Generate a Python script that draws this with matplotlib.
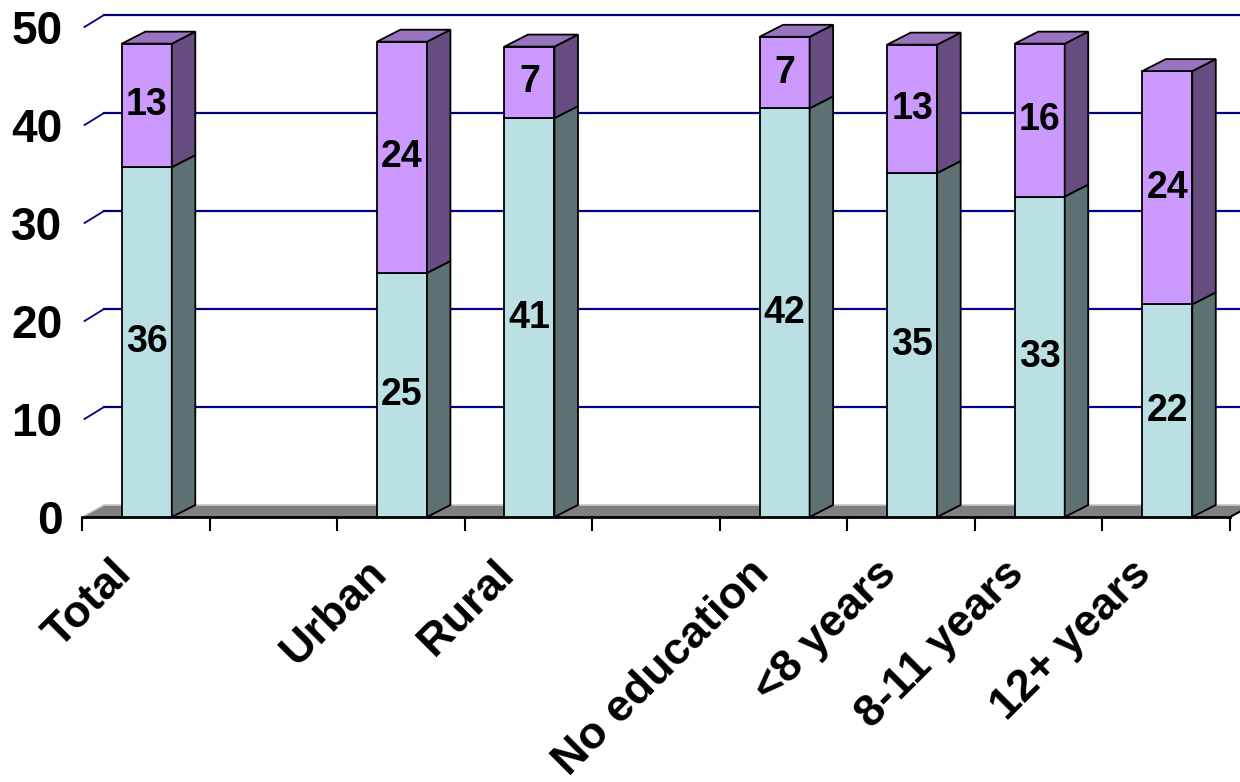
import numpy as np
import matplotlib
matplotlib.use("Agg")
import matplotlib.pyplot as plt
from matplotlib.patches import Polygon, Rectangle
from matplotlib.transforms import ScaledTranslation

plt.rcParams['font.family'] = ['Liberation Sans', 'DejaVu Sans']

# data (blank categories are the gaps between groups)
categories = ["Total", "", "Urban", "Rural", "", "No education", "<8 years", "8-11 years", "12+ years"]
lower = [35.7, np.nan, 24.9, 40.7, np.nan, 41.7, 35.1, 32.7, 21.7]
upper = [12.6, np.nan, 23.6, 7.3, np.nan, 7.3, 13.1, 15.6, 23.8]
y_ticks = [0, 10, 20, 30, 40, 50]

# pixel geometry of the original image
W, H = 1240, 782
slot_px = 127.56
unit_px = 9.8
y0_px = 517
xmin, xmax = -0.5, 8.8
ymin, ymax = 0, 51.8

fig = plt.figure(figsize=(W / 100, H / 100), dpi=100)
ax = fig.add_axes([82 / W, (H - y0_px) / H,
                   (xmax - xmin) * slot_px / W, (ymax - ymin) * unit_px / H])
ax.set_xlim(xmin, xmax)
ax.set_ylim(ymin, ymax)

wall_dx, wall_dy = 22 / slot_px, 12 / unit_px
bar_dx, bar_dy = 23.5 / slot_px, 12 / unit_px
bar_w = 50 / slot_px

n = len(categories)
xs = np.arange(n)
x_lo, x_hi = -0.5, n - 0.5

# floor
ax.add_patch(Polygon([(x_lo, 0), (x_lo + wall_dx, wall_dy), (x_hi + wall_dx, wall_dy), (x_hi, 0)],
                     closed=True, facecolor="#808080", edgecolor="none", zorder=1))
ax.plot([x_lo + wall_dx, x_hi + wall_dx], [wall_dy, wall_dy], color="#C8C8C8", lw=1.2, zorder=1.5)
ax.plot([x_lo, x_lo + wall_dx], [0, wall_dy], color="#C8C8C8", lw=1, zorder=1.5)
ax.plot([x_hi, x_hi + wall_dx], [0, wall_dy], color="black", lw=1.5, zorder=1.5)

# gridlines on the back wall
for v in y_ticks[1:]:
    ax.plot([x_lo + wall_dx, xmax], [v + wall_dy] * 2, color="#000080", lw=1.6, zorder=1)
    ax.plot([x_lo + 0.02, x_lo + wall_dx], [v, v + wall_dy], color="#000080", lw=1.3, zorder=1)


def box(x0, y0, h, front, side, top=None):
    ax.add_patch(Rectangle((x0, y0), bar_w, h, facecolor=front, edgecolor="black", lw=1.3, zorder=3))
    xr = x0 + bar_w
    ax.add_patch(Polygon([(xr, y0), (xr + bar_dx, y0 + bar_dy), (xr + bar_dx, y0 + h + bar_dy), (xr, y0 + h)],
                         closed=True, facecolor=side, edgecolor="black", lw=1.3, zorder=3))
    if top is not None:
        yt = y0 + h
        ax.add_patch(Polygon([(x0, yt), (x0 + bar_dx, yt + bar_dy), (xr + bar_dx, yt + bar_dy), (xr, yt)],
                             closed=True, facecolor=top, edgecolor="black", lw=1.3, zorder=3))


for i in xs:
    lo, up = lower[i], upper[i]
    if np.isnan(lo):
        continue
    x0 = i - bar_w / 2 + 0.008
    box(x0, 0, lo, "#BBE0E3", "#5E7172")
    box(x0, lo, up, "#CC99FF", "#664C80", "#9973BF")
    ax.text(x0 + bar_w / 2, lo / 2, f"{lo:.0f}", ha="center", va="center",
            fontsize=27, fontweight="bold", zorder=5)
    ax.text(x0 + bar_w / 2, lo + up / 2, f"{up:.0f}", ha="center", va="center",
            fontsize=27, fontweight="bold", zorder=5)

# axes styling
for s in ["left", "top", "right"]:
    ax.spines[s].set_visible(False)
ax.spines["bottom"].set_bounds(x_lo, x_hi)
ax.spines["bottom"].set_linewidth(2)
ax.spines["bottom"].set_zorder(2.5)

ax.set_yticks(y_ticks)
ax.set_yticklabels([str(t) for t in y_ticks], fontsize=33, fontweight="bold")
ax.tick_params(axis="y", length=0, pad=14)

ax.set_xticks([])
ax.set_xticks(np.arange(n + 1) - 0.5, minor=True)
ax.tick_params(axis="x", which="minor", length=10, width=1.5, direction="out", color="black")

offset = ScaledTranslation(-0.21, -0.50, fig.dpi_scale_trans)
for i, c in enumerate(categories):
    if c:
        ax.text(i, 0, c, transform=ax.get_xaxis_transform() + offset, rotation=45,
                rotation_mode="anchor", ha="right", va="center",
                fontsize=32.5, fontweight="bold", clip_on=False)

fig.savefig("out.png", dpi=100)
